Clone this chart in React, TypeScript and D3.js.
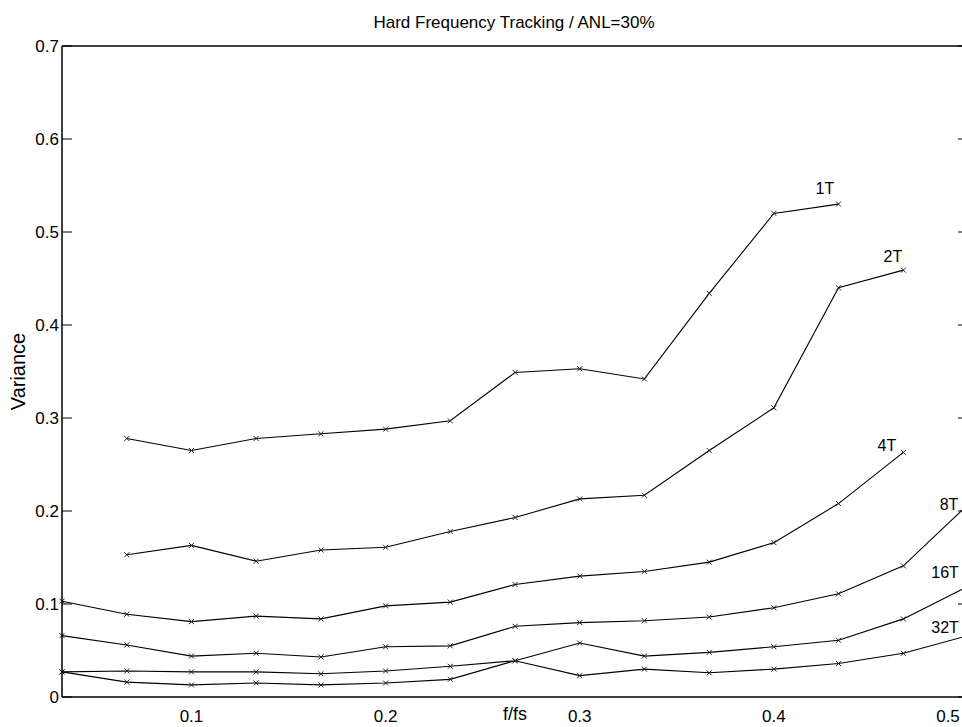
import React from 'react';
import * as d3 from 'd3';

// Normalised frequency grid (f/fs)
const freqs = [0.0333, 0.0667, 0.1, 0.1333, 0.1667, 0.2, 0.2333, 0.2667, 0.3, 0.3333, 0.3667, 0.4, 0.4333, 0.4667, 0.5];

// Tracking-error variance per filter length
const var1T = [null, 0.278, 0.265, 0.278, 0.283, 0.288, 0.297, 0.349, 0.353, 0.342, 0.434, 0.52, 0.53, null, null];
const var2T = [null, 0.153, 0.163, 0.146, 0.158, 0.161, 0.178, 0.193, 0.213, 0.217, 0.265, 0.311, 0.44, 0.459, null];
const var4T = [0.103, 0.089, 0.081, 0.087, 0.084, 0.098, 0.102, 0.121, 0.13, 0.135, 0.145, 0.166, 0.208, 0.263, null];
const var8T = [0.066, 0.056, 0.044, 0.047, 0.043, 0.054, 0.055, 0.076, 0.08, 0.082, 0.086, 0.096, 0.111, 0.141, 0.207];
const var16T = [0.027, 0.028, 0.027, 0.027, 0.025, 0.028, 0.033, 0.039, 0.058, 0.044, 0.048, 0.054, 0.061, 0.084, 0.119];
const var32T = [0.027, 0.016, 0.013, 0.015, 0.013, 0.015, 0.019, 0.039, 0.023, 0.03, 0.026, 0.03, 0.036, 0.047, 0.066];

const seriesNames = ['1T', '2T', '4T', '8T', '16T', '32T'];
const seriesValues = [var1T, var2T, var4T, var8T, var16T, var32T];

// Curve label anchors in data units (f/fs, variance)
const labelF = [0.4263, 0.4613, 0.4582, 0.4902, 0.4882, 0.4882];
const labelV = [0.541, 0.4677, 0.2645, 0.2011, 0.128, 0.0688];

const xTicks = [0.1, 0.2, 0.3, 0.4, 0.5];
const yTicks = [0, 0.1, 0.2, 0.3, 0.4, 0.5, 0.6, 0.7];

const W = 962;
const H = 727;
const FONT = '"Liberation Sans", Arial, Helvetica, sans-serif';

export default function App() {
  const left = 62;
  const right = 968;
  const top = 46;
  const bottom = 697;

  const x = d3.scaleLinear().domain([0.0333, 0.5]).range([left, right]);
  const y = d3.scaleLinear().domain([0, 0.7]).range([bottom, top]);

  const line = d3
    .line<number | null>()
    .defined((d) => d != null)
    .x((_, i) => x(freqs[i]))
    .y((d) => y(d as number));

  const m = 2.5;
  const tickLen = 10;

  return (
    <div style={{ position: 'absolute', left: 0, top: 0 }}>
      <svg width={W} height={H} style={{ display: 'block', background: '#fff' }} fontFamily={FONT}>
        <rect x={0} y={0} width={W} height={H} fill="#fff" />

        {/* data curves */}
        {seriesValues.map((vals, si) => (
          <g key={seriesNames[si]}>
            <path d={line(vals) || ''} fill="none" stroke="#000" strokeWidth={1.1} />
            {vals.map((v, i) =>
              v == null ? null : (
                <g key={i} stroke="#222" strokeWidth={1}>
                  <line x1={x(freqs[i]) - m} y1={y(v) - m} x2={x(freqs[i]) + m} y2={y(v) + m} />
                  <line x1={x(freqs[i]) - m} y1={y(v) + m} x2={x(freqs[i]) + m} y2={y(v) - m} />
                </g>
              )
            )}
            <text x={x(labelF[si])} y={y(labelV[si])} textAnchor="middle" fontSize={16} fill="#000">
              {seriesNames[si]}
            </text>
          </g>
        ))}

        {/* axes box */}
        <line x1={left} y1={top} x2={left} y2={bottom} stroke="#000" strokeWidth={1.5} />
        <line x1={left} y1={bottom} x2={right} y2={bottom} stroke="#000" strokeWidth={1.5} />
        <line x1={left} y1={top} x2={right} y2={top} stroke="#000" strokeWidth={1.5} />
        <line x1={right} y1={top} x2={right} y2={bottom} stroke="#000" strokeWidth={1.5} />

        {/* y ticks and labels */}
        {yTicks.map((t) => (
          <g key={t}>
            <line x1={left} x2={left + tickLen} y1={y(t)} y2={y(t)} stroke="#000" strokeWidth={1} />
            <line x1={right} x2={right - tickLen} y1={y(t)} y2={y(t)} stroke="#000" strokeWidth={1} />
            <text x={left - 3} y={y(t)} dy="0.36em" textAnchor="end" fontSize={17} fill="#000">
              {t === 0 ? '0' : d3.format('.1f')(t)}
            </text>
          </g>
        ))}

        {/* x tick labels */}
        {xTicks.map((t) => (
          <text key={t} x={Math.min(x(t), W - 14)} y={722} textAnchor="middle" fontSize={17} fill="#000">
            {d3.format('.1f')(t)}
          </text>
        ))}

        <text x={(left + right) / 2} y={720} textAnchor="middle" fontSize={18} fill="#000">
          f/fs
        </text>
        <text
          transform={`translate(25, ${(top + bottom) / 2}) rotate(-90)`}
          textAnchor="middle"
          fontSize={20}
          fill="#000"
        >
          Variance
        </text>
        <text x={(left + right) / 2 - 1} y={28} textAnchor="middle" fontSize={17} fill="#000">
          Hard Frequency Tracking / ANL=30%
        </text>
      </svg>
    </div>
  );
}
